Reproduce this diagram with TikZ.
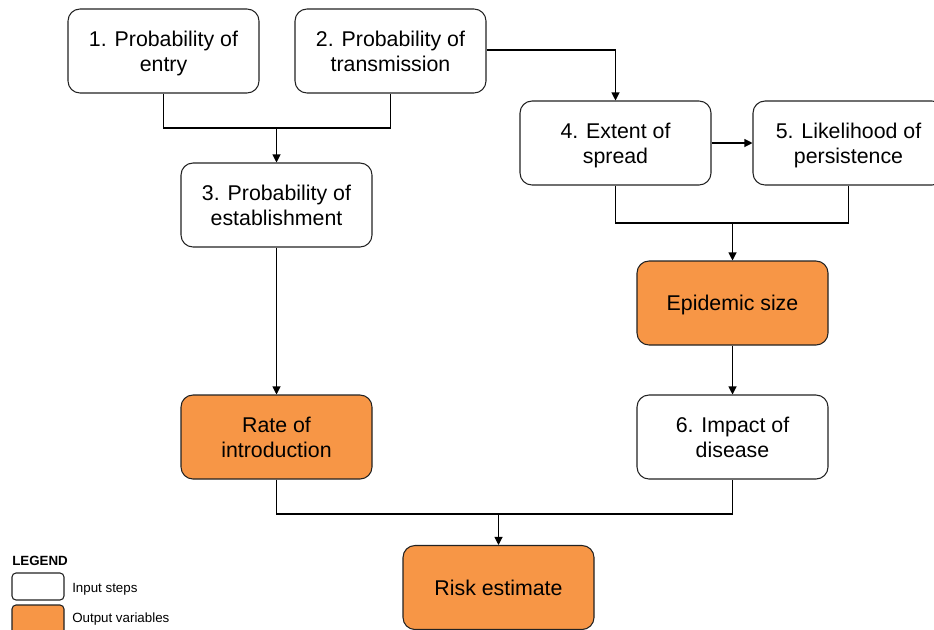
\documentclass[tikz,border=0pt]{standalone}
\usepackage{fontspec}
\setmainfont{Liberation Sans}
\usetikzlibrary{arrows.meta}
\definecolor{outorange}{HTML}{F79646}
\definecolor{edgegray}{HTML}{222222}
% first baseline placed at the given height above the node centre
\newcommand\boxtext[2][3.75pt]{\raisebox{#1}[0pt][0pt]{\begin{tabular}[t]{@{}c@{}}#2\end{tabular}}}
\newcommand\onetext[1]{\boxtext[-5.7pt]{#1}}
\tikzset{
  stepbox/.style={draw=edgegray, line width=0.8pt, rounded corners=9pt, fill=white,
    minimum width=143.25pt, minimum height=63pt, inner sep=0pt,
    font=\fontsize{16pt}{18.75pt}\selectfont},
  outbox/.style={stepbox, fill=outorange},
  conn/.style={draw=black, line width=0.8pt},
  arr/.style={conn, -{Triangle[length=6pt,width=6pt]}},
  legtext/.style={anchor=west, inner sep=0pt, font=\fontsize{10pt}{12pt}\selectfont},
}
\begin{document}
\begin{tikzpicture}[x=0.75pt,y=-0.75pt]
\clip (0,0) rectangle (934,629);
\fill[white] (0,0) rectangle (934,629);
% nodes
\node[stepbox] (b1) at (163.5,51) {\boxtext{1. Probability of\\entry}};
\node[stepbox] (b2) at (390.5,51) {\boxtext{2. Probability of\\transmission}};
\node[stepbox] (b3) at (276.5,205) {\boxtext{3. Probability of\\establishment}};
\node[stepbox] (b4) at (615.5,143) {\boxtext{4. Extent of\\spread}};
\node[stepbox] (b5) at (848.5,143) {\boxtext{5. Likelihood of\\persistence}};
\node[outbox] (ep) at (732.5,303) {\onetext{Epidemic size}};
\node[outbox] (ri) at (276.5,437) {\boxtext{Rate of\\introduction}};
\node[stepbox] (b6) at (732.5,437) {\boxtext{6. Impact of\\disease}};
\node[outbox] (rk) at (498.5,587.5) {\onetext{Risk estimate}};
% connectors
\coordinate (j1) at (276.5,128);
\draw[conn] (b1.south) |- (j1) -| (b2.south);
\draw[arr] (j1) -- (b3.north);
\draw[arr] (b2.east |- 0,50) -| (b4.north);
\draw[arr] (b4.east) -- (b5.west);
\coordinate (j2) at (732.5,223);
\draw[conn] (b4.south) |- (j2) -| (b5.south);
\draw[arr] (j2) -- (ep.north);
\draw[arr] (ep.south) -- (b6.north);
\draw[arr] (b3.south) -- (ri.north);
\coordinate (j3) at (498.5,514);
\draw[conn] (ri.south) |- (j3) -| (b6.south);
\draw[arr] (j3) -- (rk.north);
% legend
\node[anchor=west, inner sep=0pt, font=\fontsize{10pt}{12pt}\selectfont\bfseries] (lg) at (12,560.5) {LEGEND};
\draw[draw=edgegray, line width=0.8pt, rounded corners=3pt, fill=white] (12,573) rectangle (64,600);
\node[legtext] (li) at (72,589.5) {Input steps};
\draw[draw=edgegray, line width=0.8pt, rounded corners=3pt, fill=outorange] (12,605) rectangle (64,634);
\node[legtext] (lo) at (72,619.5) {Output variables};
\end{tikzpicture}
\end{document}
